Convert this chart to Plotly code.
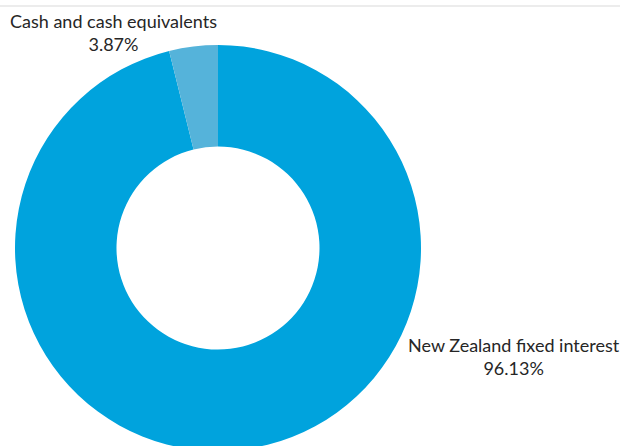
import plotly.graph_objects as go

labels = ["New Zealand fixed interest", "Cash and cash equivalents"]
values = [96.13, 3.87]
colors = ["#00A3DD", "#55B3DA"]

W, H = 620, 455

fig = go.Figure()
fig.add_trace(go.Pie(
    labels=labels,
    values=values,
    hole=0.5,
    sort=False,
    direction="clockwise",
    rotation=0,
    textinfo="none",
    hoverinfo="label+percent",
    marker=dict(colors=colors, line=dict(width=0)),
    domain=dict(x=[15 / W, 421 / W], y=[4 / H, 410 / H]),
    showlegend=False,
))

label_pos = {
    "New Zealand fixed interest": (514, 356),
    "Cash and cash equivalents": (113, 33),
}
for lab, val in zip(labels, values):
    px, py = label_pos[lab]
    fig.add_annotation(
        x=px / W, y=1 - py / H, xref="paper", yref="paper",
        text=f"{lab}<br>{val:.2f}%", showarrow=False,
        xanchor="center", yanchor="middle", align="center",
        font=dict(family="Lato", size=18, color="#262626"),
    )

fig.add_shape(type="line", xref="paper", yref="paper",
              x0=0, x1=1, y0=1 - 6 / H, y1=1 - 6 / H,
              line=dict(color="#E6E6E6", width=1.5))

fig.update_layout(
    width=W, height=H,
    margin=dict(l=0, r=0, t=0, b=0),
    paper_bgcolor="white", plot_bgcolor="white",
)

fig.write_html("out.html", config={"displayModeBar": False}, post_script=
    "document.body.style.overflow='hidden';document.documentElement.style.overflow='hidden';document.body.style.margin='0';")
